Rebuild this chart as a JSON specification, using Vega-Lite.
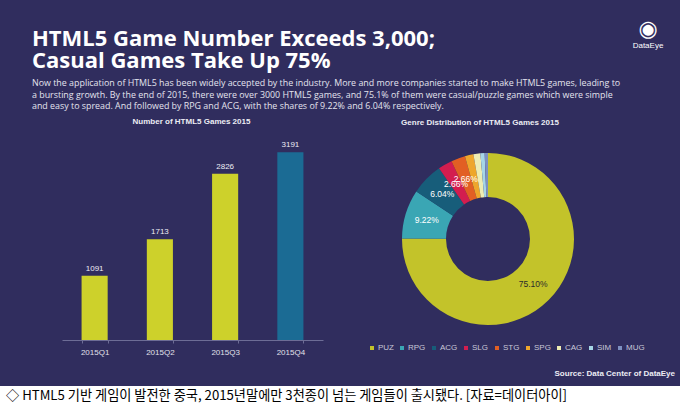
{
  "$schema": "https://vega.github.io/schema/vega-lite/v6.json",
  "background": "#302d5e",
  "padding": {"top": 18, "left": 0, "right": 0, "bottom": 0},
  "title": {
    "text": "◉",
    "subtitle": "DataEye",
    "anchor": "end",
    "align": "center",
    "dx": -32,
    "offset": -23,
    "font": "DejaVu Sans",
    "fontSize": 22,
    "fontWeight": "normal",
    "color": "white",
    "subtitleFont": "Liberation Sans",
    "subtitleFontSize": 8,
    "subtitleColor": "white",
    "subtitlePadding": 1
  },
  "vconcat": [
    {
      "title": {
        "text": ["HTML5 Game Number Exceeds 3,000;", "Casual Games Take Up 75%"],
        "subtitle": [
          "Now the application of HTML5 has been widely accepted by the industry. More and more companies started to make HTML5 games, leading to",
          "a bursting growth. By the end of 2015, there were over 3000 HTML5 games, and 75.1% of them were casual/puzzle games which were simple",
          "and easy to spread. And followed by RPG and ACG, with the shares of 9.22% and 6.04% respectively."
        ],
        "anchor": "start",
        "align": "left",
        "dx": 32,
        "font": "Open Sans",
        "fontSize": 22,
        "fontWeight": "bold",
        "lineHeight": 22,
        "color": "white",
        "subtitleFont": "Open Sans",
        "subtitleFontSize": 8.9,
        "subtitleLineHeight": 11.5,
        "subtitleColor": "#e4e4ee",
        "subtitlePadding": 6,
        "offset": 6
      },
      "hconcat": [
        {
          "width": 323,
          "height": 200,
          "title": {"text": "Number of HTML5 Games 2015", "dx": 30, "offset": 14},
          "data": {
            "values": [
              {"quarter": "2015Q1", "games": 1091},
              {"quarter": "2015Q2", "games": 1713},
              {"quarter": "2015Q3", "games": 2826},
              {"quarter": "2015Q4", "games": 3191}
            ]
          },
          "encoding": {
            "x": {
              "field": "quarter",
              "type": "nominal",
              "scale": {"range": [62, 323], "paddingInner": 0.6, "paddingOuter": 0.3},
              "axis": {
                "title": null,
                "labelAngle": 0,
                "labelColor": "#e0e0ea",
                "labelFont": "Liberation Sans",
                "labelFontSize": 8,
                "labelPadding": 5,
                "domainColor": "#6d6d96",
                "tickColor": "#6d6d96",
                "tickSize": 3,
                "tickBand": "extent",
                "grid": false
              }
            },
            "y": {
              "field": "games",
              "type": "quantitative",
              "scale": {"domain": [0, 3400]},
              "axis": null
            }
          },
          "layer": [
            {
              "mark": {"type": "bar"},
              "encoding": {
                "color": {
                  "field": "quarter",
                  "type": "nominal",
                  "scale": {
                    "domain": ["2015Q1", "2015Q2", "2015Q3", "2015Q4"],
                    "range": ["#cdd12b", "#cdd12b", "#cdd12b", "#1b6b94"]
                  },
                  "legend": null
                }
              }
            },
            {
              "mark": {"type": "text", "dy": -7, "color": "#ececf4", "font": "Liberation Sans", "fontSize": 8},
              "encoding": {"text": {"field": "games", "type": "quantitative"}}
            }
          ]
        },
        {
          "width": 180,
          "height": 198,
          "title": {"text": "Genre Distribution of HTML5 Games 2015", "dx": -8, "offset": 13},
          "data": {
            "values": [
              {"genre": "PUZ", "pct": 75.1, "rank": 1, "label": "75.10%"},
              {"genre": "RPG", "pct": 9.22, "rank": 2, "label": "9.22%"},
              {"genre": "ACG", "pct": 6.04, "rank": 3, "label": "6.04%"},
              {"genre": "SLG", "pct": 2.66, "rank": 4, "label": "2.66%"},
              {"genre": "STG", "pct": 2.66, "rank": 5, "label": "2.66%"},
              {"genre": "SPG", "pct": 1.6, "rank": 6, "label": ""},
              {"genre": "CAG", "pct": 1.3, "rank": 7, "label": ""},
              {"genre": "SIM", "pct": 0.8, "rank": 8, "label": ""},
              {"genre": "MUG", "pct": 0.62, "rank": 9, "label": ""}
            ]
          },
          "encoding": {
            "theta": {"field": "pct", "type": "quantitative", "stack": true},
            "order": {"field": "rank", "type": "quantitative"}
          },
          "layer": [
            {
              "mark": {"type": "arc", "outerRadius": 86, "innerRadius": 42},
              "encoding": {
                "color": {
                  "field": "genre",
                  "type": "nominal",
                  "scale": {
                    "domain": ["PUZ", "RPG", "ACG", "SLG", "STG", "SPG", "CAG", "SIM", "MUG"],
                    "range": ["#c3c32a", "#3aa6b4", "#175d7a", "#d31d4f", "#e25f23", "#eea62c", "#eeecb2", "#a6d6e6", "#7d90c0"]
                  },
                  "legend": {
                    "orient": "none",
                    "legendX": -30,
                    "legendY": 204,
                    "direction": "horizontal",
                    "columns": 9,
                    "gridAlign": "none",
                    "title": null,
                    "symbolType": "square",
                    "symbolSize": 16,
                    "symbolStrokeWidth": 0,
                    "labelColor": "#c8c8d8",
                    "labelFont": "Liberation Sans",
                    "labelFontSize": 8,
                    "labelOffset": 2,
                    "columnPadding": 4
                  }
                }
              }
            },
            {
              "mark": {"type": "text", "radius": 64, "font": "Liberation Sans", "fontSize": 8.5},
              "encoding": {
                "detail": {"field": "genre", "type": "nominal"},
                "text": {"field": "label", "type": "nominal"},
                "color": {
                  "condition": {"test": "datum.genre === 'PUZ'", "value": "#2b2b2b"},
                  "value": "white"
                }
              }
            }
          ]
        }
      ],
      "spacing": 75,
      "bounds": "flush",
      "resolve": {"scale": {"color": "independent"}, "legend": {"color": "independent"}}
    },
    {
      "width": 680,
      "height": 22,
      "view": {"fill": "white", "stroke": null},
      "title": {
        "text": "Source: Data Center of DataEye",
        "anchor": "end",
        "dx": -5,
        "offset": 8
      },
      "data": {
        "values": [
          {"caption": "◇ HTML5 기반 게임이 발전한 중국, 2015년말에만 3천종이 넘는 게임들이 출시됐다. [자료=데이터아이]"}
        ]
      },
      "mark": {
        "type": "text",
        "align": "left",
        "baseline": "middle",
        "dx": -334,
        "dy": -1,
        "font": "Noto Sans CJK KR",
        "fontSize": 13.2,
        "color": "black"
      },
      "encoding": {"text": {"field": "caption", "type": "nominal"}}
    }
  ],
  "spacing": 14,
  "config": {
    "view": {"stroke": null},
    "title": {"font": "Liberation Sans", "fontSize": 8, "fontWeight": "bold", "color": "#ececf4"}
  }
}
